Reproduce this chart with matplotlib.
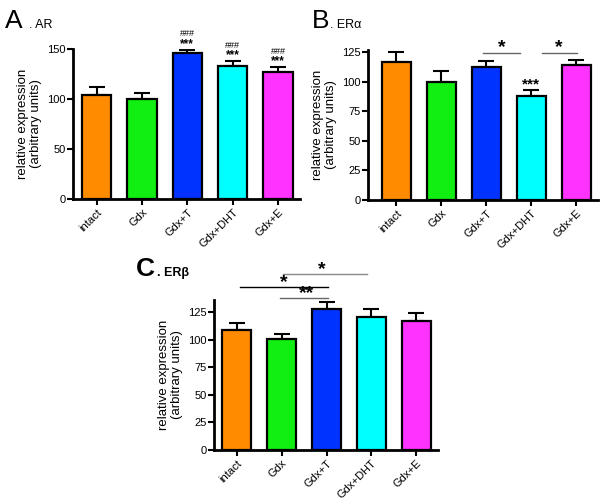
import matplotlib
matplotlib.use("Agg")
import matplotlib.pyplot as plt

plt.rcParams["font.family"] = ["Liberation Sans", "DejaVu Sans"]

grupos = ["intact", "Gdx", "Gdx+T", "Gdx+DHT", "Gdx+E"]
colores = ["#FF8C00", "#11EE11", "#0033FF", "#00FFFF", "#FF33FF"]

ar_media = [104, 100, 145.5, 133, 127]
ar_error = [7.5, 6, 3.5, 4.5, 4.7]

era_media = [117, 100, 112.5, 88, 114]
era_error = [8.5, 9, 4.8, 5, 4.8]

erb_media = [109, 100.5, 127.5, 120.5, 116.5]
erb_error = [6, 4.3, 7, 7, 7.5]

fig = plt.figure(figsize=(6.0, 5.03), dpi=100)


def dibujar_barras(ax, medias, errores, ymax, ticks, xmin):
    x = list(range(len(grupos)))
    ax.bar(x, medias, width=0.65, color=colores, edgecolor="black", linewidth=1.6, zorder=2)
    ax.errorbar(x, medias, yerr=[[0] * len(errores), errores], fmt="none",
                ecolor="black", elinewidth=1.5, capsize=6, capthick=1.5, zorder=1)
    ax.set_xlim(xmin, 4.48)
    ax.set_ylim(0, ymax)
    ax.set_yticks(ticks)
    ax.set_xticks(x)
    ax.set_xticklabels(grupos, rotation=45, ha="right", rotation_mode="anchor", fontsize=8)
    ax.tick_params(axis="y", labelsize=8, length=4, width=1.5, pad=1)
    ax.tick_params(axis="x", length=4, width=1.5, pad=2)
    ax.spines["top"].set_visible(False)
    ax.spines["right"].set_visible(False)
    ax.spines["left"].set_linewidth(2)
    ax.spines["bottom"].set_linewidth(2)
    ax.set_ylabel("relative expression\n(arbitrary units)", fontsize=9.5, labelpad=4, linespacing=1.1)


def estrella(ax, x, y, texto="*", size=14):
    ax.text(x, y, texto, ha="center", va="center", fontsize=size, fontweight="bold", clip_on=False)


def linea(ax, x0, x1, y, color="#666666"):
    ax.plot([x0, x1], [y, y], color=color, linewidth=1, clip_on=False)


# Panel A
ax_a = fig.add_axes([0.1217, 0.6044, 0.378, 0.2985])
dibujar_barras(ax_a, ar_media, ar_error, 150, [0, 50, 100, 150], -0.52)
for i in [2, 3, 4]:
    tope = ar_media[i] + ar_error[i]
    ax_a.text(i, tope + 6, "***", ha="center", va="center", fontsize=8.5, fontweight="bold", clip_on=False)
    ax_a.text(i, tope + 16, "###", ha="center", va="center", fontsize=6.5, clip_on=False)
fig.text(0.008, 0.944, "A", fontsize=19)
fig.text(0.048, 0.944, ". AR", fontsize=9)

# Panel B
ax_b = fig.add_axes([0.6133, 0.6024, 0.383, 0.2985])
dibujar_barras(ax_b, era_media, era_error, 127, [0, 25, 50, 75, 100, 125], -0.63)
linea(ax_b, 1.93, 2.74, 124.5)
linea(ax_b, 3.25, 4.02, 124.5)
estrella(ax_b, 2.35, 128.5)
estrella(ax_b, 3.62, 128.5)
estrella(ax_b, 3, 98, "***", 11)
fig.text(0.52, 0.944, "B", fontsize=19)
fig.text(0.55, 0.944, ". ER\u03b1", fontsize=9)

# Panel C
ax_c = fig.add_axes([0.3567, 0.1054, 0.373, 0.2982])
dibujar_barras(ax_c, erb_media, erb_error, 136, [0, 25, 50, 75, 100, 125], -0.51)
linea(ax_c, 1.02, 2.89, 160, "#888888")
linea(ax_c, 0.07, 2.04, 148, "black")
linea(ax_c, 0.96, 2.04, 138, "#666666")
estrella(ax_c, 1.9, 164)
estrella(ax_c, 1.05, 152)
estrella(ax_c, 1.55, 142, "**")
fig.text(0.226, 0.452, "C", fontsize=19, fontweight="bold")
fig.text(0.262, 0.452, ". ER\u03b2", fontsize=9, fontweight="bold")

fig.savefig("out.png", dpi=100)
